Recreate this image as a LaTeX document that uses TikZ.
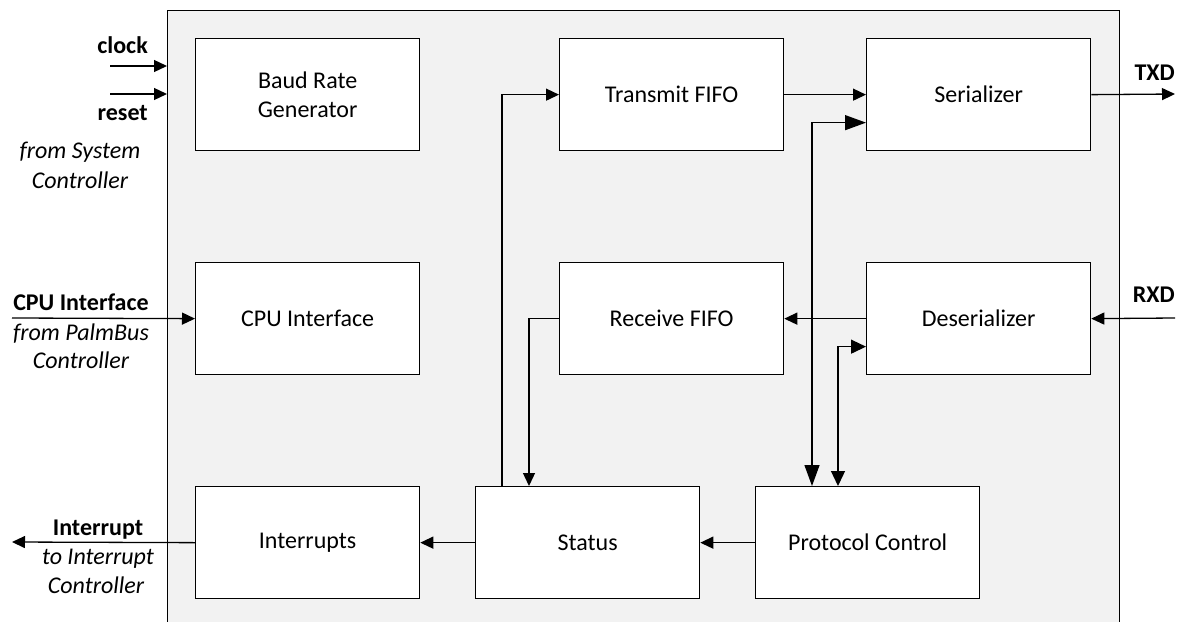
\documentclass[tikz,border=0pt]{standalone}
\usepackage{fontspec}
\setmainfont{Carlito}
\usetikzlibrary{arrows.meta}
\definecolor{chipfill}{HTML}{F2F2F2}
\begin{document}
\begin{tikzpicture}[x=1pt,y=-1pt,
  blk/.style={draw, fill=white, line width=1.3pt, minimum width=224pt, minimum height=112pt,
    inner sep=0pt, anchor=north west, align=center, font=\fontsize{24}{29}\selectfont},
  ar/.style={-{Triangle[length=13pt,width=12pt]}, line width=1.3pt},
  arbig/.style={{Triangle[length=21pt,width=15pt]}-{Triangle[length=21pt,width=15pt]}, line width=1.3pt},
  armid/.style={{Triangle[length=15pt,width=14pt]}-{Triangle[length=15pt,width=14pt]}, line width=1.3pt},
  lbl/.style={inner sep=0pt, font=\fontsize{24}{29}\selectfont\bfseries},
  ilbl/.style={inner sep=0pt, font=\fontsize{24}{29}\selectfont\itshape}]
\clip (0,0) rectangle (1183,621);
\node[draw, fill=chipfill, line width=1.4pt, minimum width=952pt, minimum height=660pt,
  inner sep=0pt, anchor=north west] (chip) at (167,10) {};
% blocks
\node[blk] (baud) at (195,38) {Baud Rate\\Generator};
\node[blk] (tx) at (559,38) {Transmit FIFO};
\node[blk] (ser) at (866,38) {Serializer};
\node[blk] (cpu) at (195,262) {CPU Interface};
\node[blk] (rx) at (559,262) {Receive FIFO};
\node[blk] (des) at (866,262) {Deserializer};
\node[blk] (intr) at (195,486) {Interrupts};
\node[blk] (st) at (475,486) {Status};
\node[blk] (pc) at (755,486) {Protocol Control};
% external coordinates
\coordinate (clk) at (110,66);
\coordinate (rst) at (110,94);
\coordinate (cpuin) at (12,318);
\coordinate (intout) at (12,542);
\coordinate (txd) at (1175,94);
\coordinate (rxd) at (1175,318);
% external connectors
\draw[ar] (clk) -- (chip.west |- clk);
\draw[ar] (rst) -- (chip.west |- rst);
\draw[ar] (cpuin) -- (cpu.west);
\draw[ar] (intr.west) -- (intout);
\draw[ar] (ser.east) -- (txd);
\draw[ar] (rxd) -- (des.east);
% internal connectors
\draw[ar] (tx.east) -- (ser.west);
\draw[ar] (des.west) -- (rx.east);
\draw[ar] (rx.west) -| ([xshift=54pt]st.north west);
\draw[ar] ([xshift=27pt]st.north west) |- (tx.west);
\draw[arbig] ([xshift=57pt]pc.north west) |- ([yshift=-28pt]ser.west);
\draw[armid] ([xshift=83pt]pc.north west) |- ([yshift=-28pt]des.west);
\draw[ar] (pc.west) -- (st.east);
\draw[ar] (st.west) -- (intr.east);
% labels
\node[lbl, anchor=base east] (lclk) at (148,53) {clock};
\node[lbl, anchor=base east] (lrst) at (148,120) {reset};
\node[ilbl, anchor=base] (lsys1) at (80,158) {from System};
\node[ilbl, anchor=base] (lsys2) at (80,188) {Controller};
\node[lbl, anchor=base] (lcpu) at (81,310) {CPU Interface};
\node[ilbl, anchor=base] (lpb1) at (81,340) {from PalmBus};
\node[ilbl, anchor=base] (lpb2) at (81,368) {Controller};
\node[lbl, anchor=base] (lint) at (98,535) {Interrupt};
\node[ilbl, anchor=base] (lic1) at (98,564) {to Interrupt};
\node[ilbl, anchor=base] (lic2) at (96,593) {Controller};
\node[lbl, anchor=base east] (ltxd) at (1175,80) {TXD};
\node[lbl, anchor=base east] (lrxd) at (1175,302) {RXD};
\end{tikzpicture}
\end{document}
